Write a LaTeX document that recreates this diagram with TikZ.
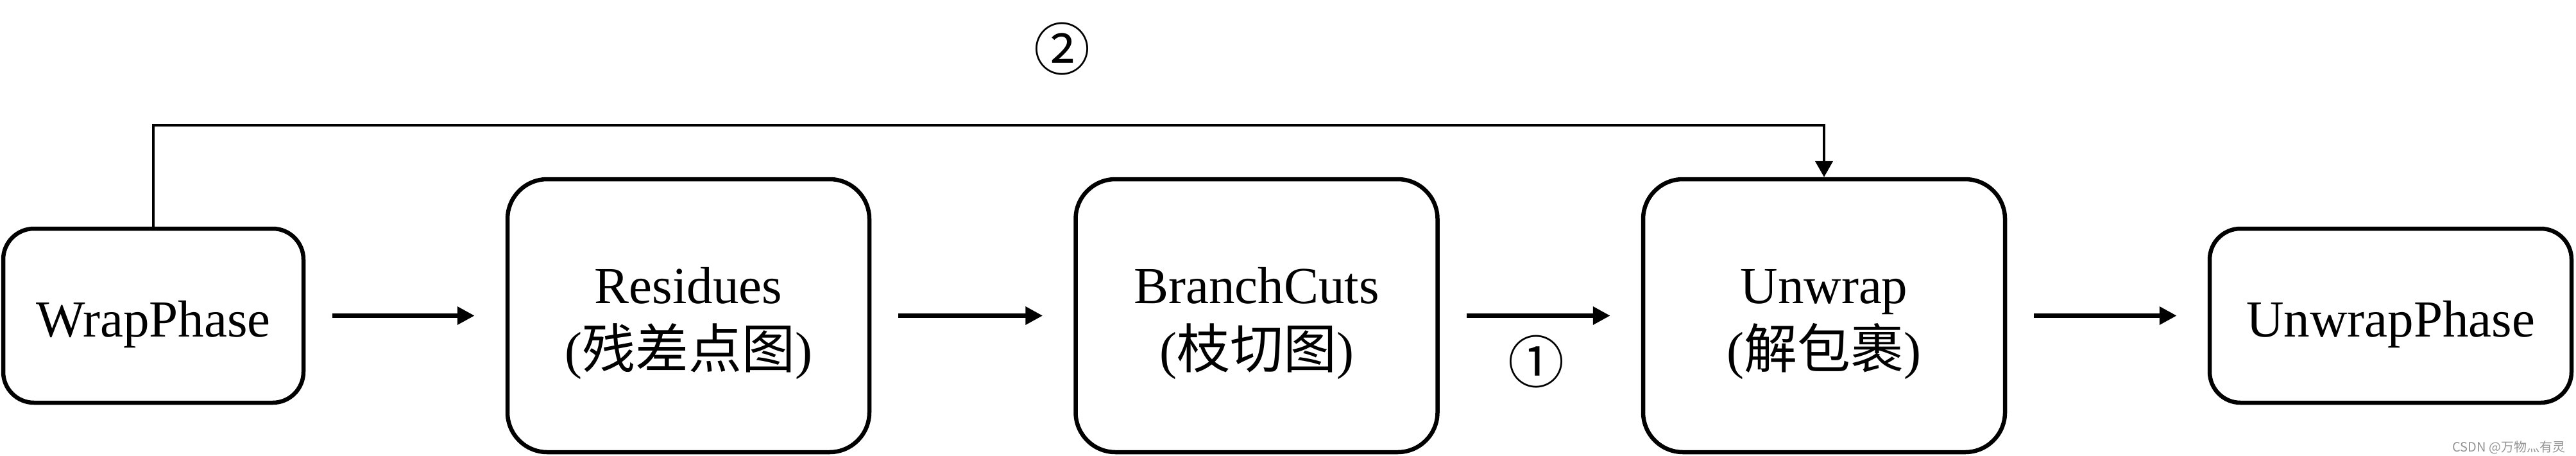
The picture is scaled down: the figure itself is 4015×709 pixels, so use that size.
\documentclass[tikz,border=0pt]{standalone}
\usepackage{fontspec}
\setmainfont{Liberation Serif}
\newfontfamily\cjk{Noto Sans CJK SC}
\usetikzlibrary{arrows.meta}
\tikzset{
  boxsmall/.style={draw, line width=1.625pt, rounded corners=12pt, minimum width=117pt, minimum height=67.75pt, inner sep=0pt},
  boxbig/.style={draw, line width=1.625pt, rounded corners=15.5pt, minimum width=141pt, minimum height=106.25pt, inner sep=0pt},
  lat/.style={font=\fontsize{20.25pt}{24pt}\selectfont, inner sep=0pt, anchor=base},
  circnum/.style={font=\fontsize{22pt}{26pt}\selectfont\cjk, inner sep=0pt},
  flow/.style={line width=1.75pt, -{Triangle[length=6.75pt,width=6.75pt]}, shorten <=10.5pt, shorten >=12pt},
  bypass/.style={line width=1.125pt, -{Triangle[length=6.25pt,width=6.75pt]}},
  wmark/.style={font=\fontsize{5pt}{6pt}\selectfont\cjk, text=black!42, inner sep=0pt, anchor=base east}
}
\newcommand{\cjktext}[1]{{\fontsize{20.75pt}{24pt}\selectfont\cjk #1}}
\begin{document}
\begin{tikzpicture}[x=0.25pt, y=-0.25pt]
\fill[white] (0,0) rectangle (4015,709);
\useasboundingbox (0,0) rectangle (4015,709);

% boxes
\node[boxsmall] (wp)  at (239,491.5) {};
\node[boxbig]   (res) at (1073,491.5) {};
\node[boxbig]   (bc)  at (1958.5,491.5) {};
\node[boxbig]   (uw)  at (2843,491.5) {};
\node[boxsmall, minimum width=141pt] (uwp) at (3726,491.5) {};

% texts
\node[lat] (wpt)  at (239,524) {WrapPhase};
\node[lat] (rest1) at (1073,472) {Residues};
\node[lat] (rest2) at (1073,573) {(\cjktext{残差点图})};
\node[lat] (bct1) at (1958.5,472) {BranchCuts};
\node[lat] (bct2) at (1958.5,573) {(\cjktext{枝切图})};
\node[lat] (uwt1) at (2843,472) {Unwrap};
\node[lat] (uwt2) at (2843,573) {(\cjktext{解包裹})};
\node[lat] (uwpt) at (3726,524) {UnwrapPhase};

% main flow
\draw[flow] (wp.east) -- (res.west);
\draw[flow] (res.east) -- (bc.west);
\draw[flow] (bc.east) -- (uw.west);
\draw[flow] (uw.east) -- (uwp.west);

% bypass
\coordinate (toprow) at (0,195);
\draw[bypass] (wp.north) -- (wp.north |- toprow) -| (uw.north);

% labels
\node[circnum] (n2) at (1655,76.5) {②};
\node[circnum] (n1) at (2394,563) {①};

% watermark
\node[wmark] (wm) at (3999,703) {CSDN @万物灬有灵};
\end{tikzpicture}
\end{document}
